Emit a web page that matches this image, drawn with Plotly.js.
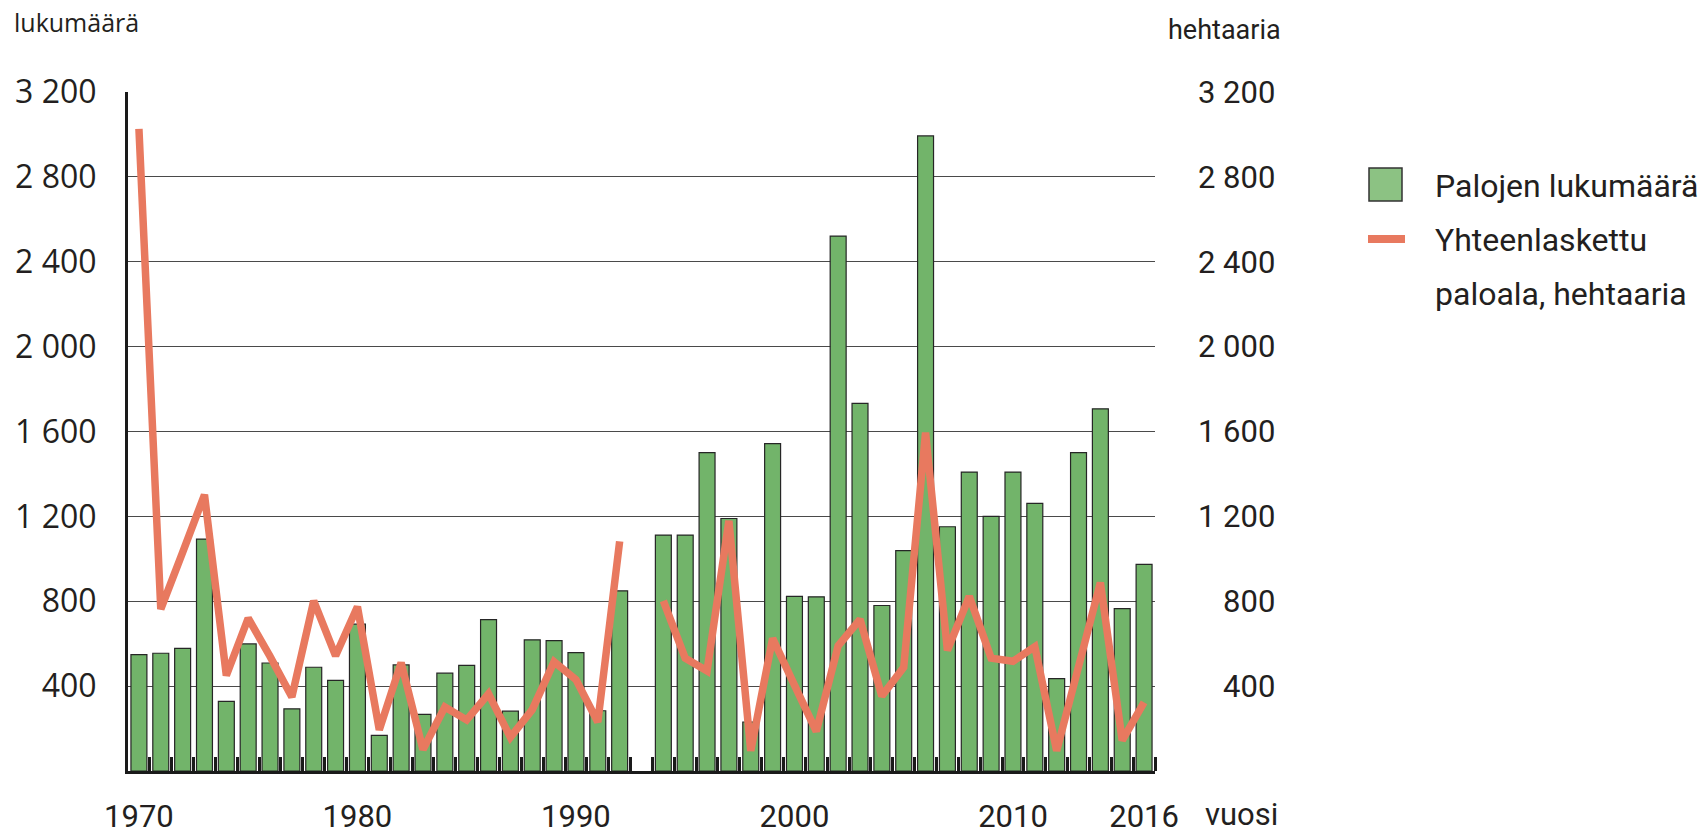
<!DOCTYPE html>
<html>
<head>
<meta charset="utf-8">
<script src="https://cdn.plot.ly/plotly-3.0.1.min.js"></script>
<style>
  html, body { margin: 0; padding: 0; background: #ffffff; }
  #chart { width: 1708px; height: 837px; }
</style>
</head>
<body>
<div id="chart"></div>
<script>
// ---- Data ----
const years = [1970,1971,1972,1973,1974,1975,1976,1977,1978,1979,
               1980,1981,1982,1983,1984,1985,1986,1987,1988,1989,
               1990,1991,1992,1993,1994,1995,1996,1997,1998,1999,
               2000,2001,2002,2003,2004,2005,2006,2007,2008,2009,
               2010,2011,2012,2013,2014,2015,2016];

// Palojen lukumäärä (bars, left axis)
const fireCount = [548,555,578,1093,328,599,509,293,489,427,
                   692,168,500,267,461,498,713,282,618,614,
                   558,284,849,null,1112,1112,1500,1190,231,1543,
                   823,821,2521,1733,780,1039,2993,1151,1409,1200,
                   1409,1261,435,1500,1707,765,974];

// Yhteenlaskettu paloala, hehtaaria (line, right axis)
const burntArea = [3026,763,1030,1302,450,720,540,349,802,543,
                   774,194,511,101,302,241,364,159,289,515,
                   431,231,1082,null,802,532,472,1179,95,625,
                   405,187,590,715,353,489,1595,569,823,532,
                   517,586,95,480,888,144,323];

const seriesNames = ['Palojen lukumäärä', 'Yhteenlaskettu', 'paloala, hehtaaria'];
const yTickVals = [400,800,1200,1600,2000,2400,2800,3200];
const yTickText = ['400','800','1 200','1 600','2 000','2 400','2 800','3 200'];
const xTickVals = [1970,1980,1990,2000,2010,2016];
const xTickText = ['1970','1980','1990','2000','2010','2016'];
const leftAxisTitle = 'lukumäärä';
const rightAxisTitle = 'hehtaaria';
const xAxisTitle = 'vuosi';

// right-aligned variant of the tick labels for the right axis
const yTickTextRight = yTickText.map(t => t.length < 5 ? '\u2007\u00A0' + t : t);

// ---- Layout helpers ----
const W = 1708, H = 837;
const ml = 128, mr = 408, mt = 92, mb = 66;
const pw = W - ml - mr, ph = H - mt - mb;
const px = x => (x - ml) / pw;
const py = y => (H - mb - y) / ph;

const narrow = "Roboto, 'Liberation Sans', sans-serif";
const wide = "'Open Sans', 'DejaVu Sans', sans-serif";
const txt = '#231f20';

const boundaries = years.map(y => y + 0.5);

const traces = [
  {
    type: 'bar',
    x: years,
    y: fireCount,
    name: seriesNames[0],
    width: 0.73,
    marker: { color: '#72b46a', line: { color: '#262626', width: 1.2 } },
    showlegend: false
  },
  {
    type: 'scatter',
    mode: 'lines',
    x: years,
    y: burntArea,
    yaxis: 'y2',
    name: seriesNames[1] + ' ' + seriesNames[2],
    connectgaps: false,
    line: { color: '#e8795f', width: 7.5 },
    showlegend: false
  }
];

const layout = {
  width: W, height: H,
  margin: { l: ml, r: mr, t: mt, b: mb, pad: 0 },
  paper_bgcolor: '#ffffff',
  plot_bgcolor: '#ffffff',
  showlegend: false,
  xaxis: {
    domain: [0, px(1155)],
    range: [1969.5, 2016.5],
    tickmode: 'array',
    tickvals: xTickVals,
    ticktext: xTickText,
    ticks: '',
    showgrid: false,
    zeroline: false,
    showline: true,
    linecolor: '#1a1a1a',
    linewidth: 3,
    ticklabelstandoff: 16,
    tickfont: { family: narrow, size: 31, color: txt },
    minor: {
      tickmode: 'array',
      tickvals: boundaries,
      ticks: 'inside',
      ticklen: 14,
      tickwidth: 3,
      tickcolor: '#1a1a1a',
      showgrid: false
    }
  },
  yaxis: {
    range: [0, 3200],
    tickmode: 'array',
    tickvals: yTickVals,
    ticktext: yTickText,
    ticks: '',
    showgrid: true,
    gridcolor: '#4a4a4a',
    gridwidth: 1.2,
    zeroline: false,
    showline: true,
    linecolor: '#1a1a1a',
    linewidth: 3,
    ticklabelstandoff: 22,
    tickfont: { family: wide, size: 32, color: txt }
  },
  yaxis2: {
    overlaying: 'y',
    anchor: 'x',
    side: 'right',
    range: [0, 3200],
    tickmode: 'array',
    tickvals: yTickVals,
    ticktext: yTickTextRight,
    ticks: '',
    ticklabelstandoff: 42,
    showgrid: false,
    zeroline: false,
    showline: false,
    tickfont: { family: narrow, size: 31, color: txt }
  },
  shapes: [
    { type: 'rect', xref: 'paper', yref: 'paper',
      x0: px(1369), x1: px(1402), y0: py(201), y1: py(168),
      fillcolor: '#8cc283', line: { color: '#333333', width: 1.5 } },
    { type: 'line', xref: 'paper', yref: 'paper',
      x0: px(1368), x1: px(1405), y0: py(239), y1: py(239),
      line: { color: '#e8795f', width: 8 } }
  ],
  annotations: [
    { text: leftAxisTitle, xref: 'paper', yref: 'paper', x: px(12), y: py(22),
      xanchor: 'left', yanchor: 'middle', showarrow: false,
      font: { family: wide, size: 25, color: txt } },
    { text: rightAxisTitle, xref: 'paper', yref: 'paper', x: px(1283), y: py(30),
      xanchor: 'right', yanchor: 'middle', showarrow: false,
      font: { family: narrow, size: 27, color: txt } },
    { text: xAxisTitle, xref: 'paper', yref: 'paper', x: px(1203), y: py(814),
      xanchor: 'left', yanchor: 'middle', showarrow: false,
      font: { family: narrow, size: 31, color: txt } },
    { text: seriesNames[0], xref: 'paper', yref: 'paper', x: px(1433), y: py(186),
      xanchor: 'left', yanchor: 'middle', showarrow: false,
      font: { family: narrow, size: 32, color: txt } },
    { text: seriesNames[1], xref: 'paper', yref: 'paper', x: px(1433), y: py(240),
      xanchor: 'left', yanchor: 'middle', showarrow: false,
      font: { family: narrow, size: 32, color: txt } },
    { text: seriesNames[2], xref: 'paper', yref: 'paper', x: px(1433), y: py(294),
      xanchor: 'left', yanchor: 'middle', showarrow: false,
      font: { family: narrow, size: 32, color: txt } }
  ]
};

Plotly.newPlot('chart', traces, layout, { displayModeBar: false, staticPlot: true });
</script>
</body>
</html>
